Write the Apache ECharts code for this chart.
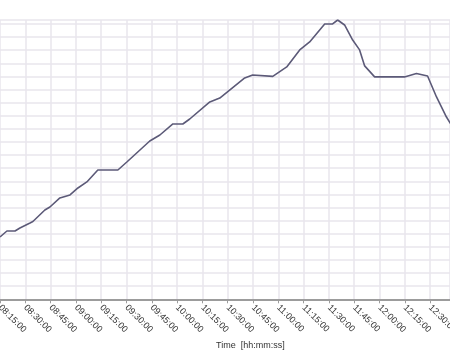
<!DOCTYPE html>
<html>
<head>
<meta charset="utf-8">
<script src="https://cdn.jsdelivr.net/npm/echarts@6/dist/echarts.min.js"></script>
<style>html,body{margin:0;padding:0;background:#fff;}#c{width:450px;height:360px;}</style>
</head>
<body>
<div id="c"></div>
<script>
var times = ["08:15:00","08:19:06","08:23:54","08:26:48","08:32:48","08:34:30","08:41:36","08:44:36","08:50:30","08:56:30","09:01:12","09:06:30","09:13:00","09:24:54","09:30:12","09:43:48","09:49:48","09:57:30","10:03:24","10:07:30","10:19:24","10:25:18","10:40:06","10:44:48","10:56:42","11:05:00","11:12:42","11:18:36","11:27:30","11:32:12","11:35:12","11:39:18","11:44:06","11:48:12","11:51:12","11:57:06","12:14:48","12:21:54","12:28:30","12:33:48","12:39:42","12:44:30"];
var values = [4.75,5.21,5.21,5.44,5.82,5.93,6.81,7.04,7.73,7.96,8.49,8.95,9.86,9.86,10.47,12.07,12.53,13.37,13.37,13.75,15.05,15.35,16.88,17.11,17.0,17.72,19.02,19.63,21.0,21.0,21.3,20.92,19.77,19.02,17.8,16.96,16.96,17.22,17.03,15.43,13.9,12.9];
var xAxisTitle = "Time  [hh:mm:ss]";

function toMin(s){var p=s.split(":");return (+p[0])*60+(+p[1])+(+p[2])/60;}
function fmt(m){var h=Math.floor(m/60),mm=Math.round(m-h*60);return (h<10?"0":"")+h+":"+(mm<10?"0":"")+mm+":00";}
var data = times.map(function(t,i){return [toMin(t), values[i]];});

var chart = echarts.init(document.getElementById('c'), null, {renderer:'canvas'});
chart.setOption({
  animation:false,
  backgroundColor:'#fff',
  grid:{left:0,right:0,top:20,bottom:60.7,containLabel:false,outerBoundsMode:'none'},
  xAxis:{type:'value',min:495,max:761.8,interval:15,
    axisLine:{show:true,lineStyle:{color:'#9c9c9c',width:2}},
    axisTick:{show:true,length:4,lineStyle:{color:'#9c9c9c',width:1}},
    axisLabel:{rotate:-45,fontSize:9,color:'#333',margin:7,showMaxLabel:false,fontFamily:'Liberation Sans',
      formatter:function(v){return fmt(v);}},
    splitLine:{show:true,lineStyle:{color:'#e8e6ec',width:1.5}}
  },
  yAxis:{type:'value',min:0,max:21.3,interval:1,
    axisLine:{show:false},axisTick:{show:false},axisLabel:{show:false},
    splitLine:{show:true,lineStyle:{color:'#e8e6ec',width:1.5}}
  },
  graphic:[{type:'text',left:216,top:341,style:{text:xAxisTitle,fontSize:9,fill:'#333',fontFamily:'Liberation Sans'}}],
  series:[{type:'line',data:data,showSymbol:false,smooth:false,clip:true,
    lineStyle:{color:'#5c5a78',width:1.6}}]
});
</script>
</body>
</html>
